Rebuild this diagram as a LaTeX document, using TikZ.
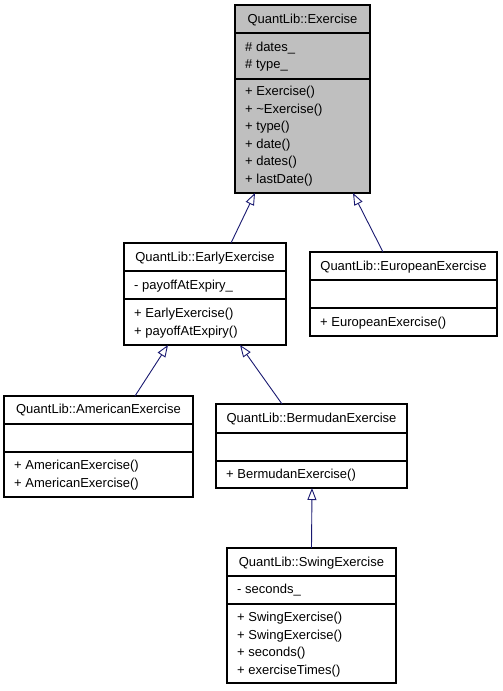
\documentclass[tikz,border=0pt]{standalone}
\usepackage{fontspec}
\setmainfont{Liberation Sans}
\usetikzlibrary{arrows.meta}
\definecolor{edgeblue}{HTML}{191970}
\definecolor{boxgray}{HTML}{BFBFBF}
\begin{document}
\begin{tikzpicture}[x=1pt,y=-1pt,
  box/.style={draw=black, line width=1.1pt, rectangle, anchor=north west, inner sep=0pt, outer sep=0pt},
  txt/.style={anchor=base west, inner sep=0pt, font=\fontsize{13}{15}\selectfont},
  ttl/.style={anchor=base, inner sep=0pt, font=\fontsize{13}{15}\selectfont},
  divider/.style={line width=1.1pt},
  inherit/.style={draw=edgeblue, line width=0.9pt, -{Triangle[open, length=12pt, width=9pt]}}]
\useasboundingbox (0,0) rectangle (503,691);

% Exercise
\node[box, fill=boxgray, minimum width=135pt, minimum height=188pt] (ex) at (235,5) {};
\draw[divider] (235,33) -- (370,33);
\draw[divider] (235,79) -- (370,79);
\node[ttl] (ex-t) at (302.5,23) {QuantLib::Exercise};
\node[txt] (ex-a1) at (245,51) {\# dates\_};
\node[txt] (ex-a2) at (245,68.5) {\# type\_};
\node[txt] (ex-m1) at (245,95.5) {+ Exercise()};
\node[txt] (ex-m2) at (245,113) {+ \char`\~Exercise()};
\node[txt] (ex-m3) at (245,130.5) {+ type()};
\node[txt] (ex-m4) at (245,148) {+ date()};
\node[txt] (ex-m5) at (245,165.5) {+ dates()};
\node[txt] (ex-m6) at (245,183) {+ lastDate()};

% EarlyExercise
\node[box, fill=white, minimum width=162pt, minimum height=102pt] (early) at (124,243) {};
\draw[divider] (124,271) -- (286,271);
\draw[divider] (124,299) -- (286,299);
\node[ttl] (early-t) at (205,261.5) {QuantLib::EarlyExercise};
\node[txt] (early-a1) at (134,289.5) {- payoffAtExpiry\_};
\node[txt] (early-m1) at (134,317.5) {+ EarlyExercise()};
\node[txt] (early-m2) at (134,335) {+ payoffAtExpiry()};

% EuropeanExercise
\node[box, fill=white, minimum width=187pt, minimum height=84pt] (euro) at (310,252) {};
\draw[divider] (310,280) -- (497,280);
\draw[divider] (310,308) -- (497,308);
\node[ttl] (euro-t) at (403.5,270.5) {QuantLib::EuropeanExercise};
\node[txt] (euro-m1) at (320,326.5) {+ EuropeanExercise()};

% AmericanExercise
\node[box, fill=white, minimum width=189pt, minimum height=101pt] (amer) at (4,396) {};
\draw[divider] (4,424) -- (193,424);
\draw[divider] (4,452) -- (193,452);
\node[ttl] (amer-t) at (98.5,413.5) {QuantLib::AmericanExercise};
\node[txt] (amer-m1) at (14,469.5) {+ AmericanExercise()};
\node[txt] (amer-m2) at (14,487) {+ AmericanExercise()};

% BermudanExercise
\node[box, fill=white, minimum width=191pt, minimum height=84pt] (berm) at (216,404) {};
\draw[divider] (216,433) -- (407,433);
\draw[divider] (216,461) -- (407,461);
\node[ttl] (berm-t) at (311.5,422.5) {QuantLib::BermudanExercise};
\node[txt] (berm-m1) at (226,478) {+ BermudanExercise()};

% SwingExercise
\node[box, fill=white, minimum width=169pt, minimum height=135pt] (swing) at (227,548) {};
\draw[divider] (227,576) -- (396,576);
\draw[divider] (227,604) -- (396,604);
\node[ttl] (swing-t) at (311.5,566) {QuantLib::SwingExercise};
\node[txt] (swing-a1) at (237,593.5) {- seconds\_};
\node[txt] (swing-m1) at (237,621.5) {+ SwingExercise()};
\node[txt] (swing-m2) at (237,639) {+ SwingExercise()};
\node[txt] (swing-m3) at (237,656.5) {+ seconds()};
\node[txt] (swing-m4) at (237,674) {+ exerciseTimes()};

% inheritance
\draw[inherit] ([xshift=107pt]early.north west) -- ([xshift=20pt]ex.south west);
\draw[inherit] ([xshift=73pt]euro.north west) -- ([xshift=118pt]ex.south west);
\draw[inherit] ([xshift=131pt]amer.north west) -- ([xshift=44pt]early.south west);
\draw[inherit] ([xshift=66pt]berm.north west) -- ([xshift=116pt]early.south west);
\draw[inherit] (swing.north) -- ([xshift=96pt]berm.south west);
\end{tikzpicture}
\end{document}
